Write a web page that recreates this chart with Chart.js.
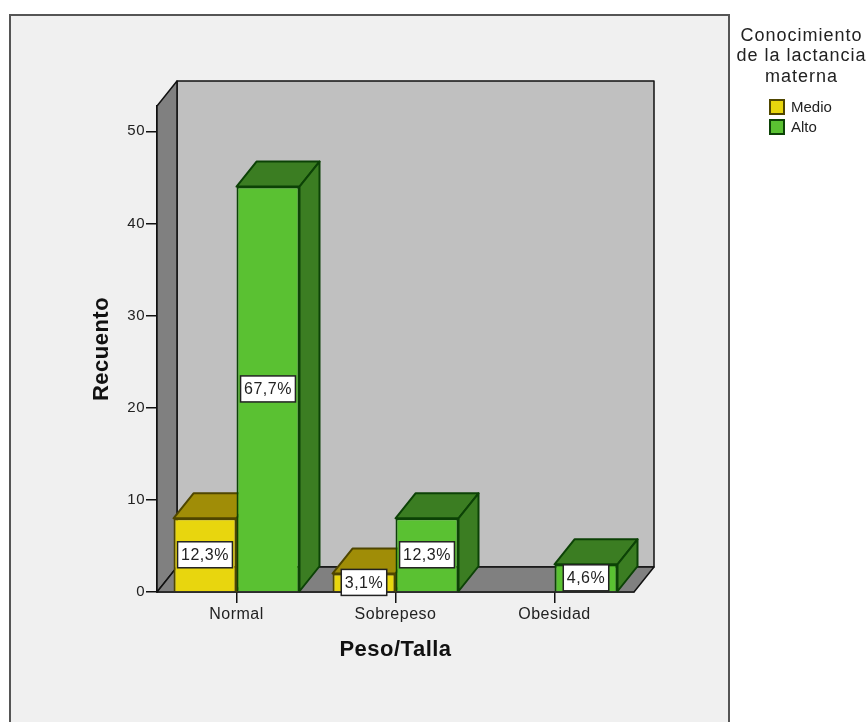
<!DOCTYPE html>
<html>
<head>
    <title>Peso/Talla</title>
    <style>
        body { margin: 0; background: #fff; }
        canvas { display: block; }
    </style>
    <script src="https://cdn.jsdelivr.net/npm/chart.js"></script>
</head>
<body>
    <canvas id="chart" width="868" height="722"></canvas>

    <script>
        const categories = ['Normal', 'Sobrepeso', 'Obesidad'];
        const seriesNames = ['Medio', 'Alto'];
        const medio = [8, 2, 0];
        const alto = [44, 8, 3];
        const medioLabels = ['12,3%', '3,1%', null];
        const altoLabels = ['67,7%', '12,3%', '4,6%'];
        const yTicks = [0, 10, 20, 30, 40, 50];
        const legendTitle = ['Conocimiento', 'de la lactancia', 'materna'];

        const FONT = '"Liberation Sans", Arial, sans-serif';
        const DEPTH_X = 20;
        const DEPTH_Y = 25;
        const yellow = { front: '#e8d60e', shade: '#a08d07', line: '#4f4600' };
        const green = { front: '#5ac132', shade: '#3b7d22', line: '#0c4206' };

        function poly(ctx, pts, fill, stroke, width) {
            ctx.beginPath();
            pts.forEach((p, i) => i ? ctx.lineTo(p[0], p[1]) : ctx.moveTo(p[0], p[1]));
            ctx.closePath();
            ctx.fillStyle = fill;
            ctx.fill();
            ctx.lineWidth = width;
            ctx.strokeStyle = stroke;
            ctx.stroke();
        }

        // panel behind the whole chart, also sets the text tracking used by the axes
        const framePlugin = {
            id: 'frame',
            beforeDraw(chart) {
                const ctx = chart.ctx;
                ctx.save();
                ctx.fillStyle = '#f0f0f0';
                ctx.strokeStyle = '#555';
                ctx.lineWidth = 2;
                ctx.fillRect(10, 15, 719, 720);
                ctx.strokeRect(10, 15, 719, 720);
                ctx.restore();
                ctx.letterSpacing = '0.5px';
            }
        };

        // walls, floor, then the top and side faces of each bar
        const box3dPlugin = {
            id: 'box3d',
            beforeDatasetsDraw(chart) {
                const ctx = chart.ctx;
                const a = chart.chartArea;
                ctx.save();
                ctx.lineJoin = 'round';
                poly(ctx, [[a.left + DEPTH_X, a.top - DEPTH_Y], [a.right + DEPTH_X, a.top - DEPTH_Y],
                    [a.right + DEPTH_X, a.bottom - DEPTH_Y], [a.left + DEPTH_X, a.bottom - DEPTH_Y]], '#c0c0c0', '#111', 1.5);
                poly(ctx, [[a.left, a.bottom], [a.left, a.top], [a.left + DEPTH_X, a.top - DEPTH_Y],
                    [a.left + DEPTH_X, a.bottom - DEPTH_Y]], '#808080', '#111', 1.5);
                poly(ctx, [[a.left, a.bottom], [a.right, a.bottom], [a.right + DEPTH_X, a.bottom - DEPTH_Y],
                    [a.left + DEPTH_X, a.bottom - DEPTH_Y]], '#808080', '#111', 1.5);

                chart.data.datasets.forEach((ds, i) => {
                    const c = i === 0 ? yellow : green;
                    chart.getDatasetMeta(i).data.forEach((bar, j) => {
                        if (!ds.data[j]) return;
                        const l = bar.x - bar.width / 2;
                        const r = bar.x + bar.width / 2;
                        poly(ctx, [[l, bar.y], [r, bar.y], [r + DEPTH_X, bar.y - DEPTH_Y], [l + DEPTH_X, bar.y - DEPTH_Y]], c.shade, c.line, 2);
                        poly(ctx, [[r, bar.y], [r + DEPTH_X, bar.y - DEPTH_Y], [r + DEPTH_X, bar.base - DEPTH_Y], [r, bar.base]], c.shade, c.line, 2);
                    });
                });
                ctx.restore();
            }
        };

        // white percentage boxes centred on the bar fronts
        const percentPlugin = {
            id: 'percent',
            afterDatasetsDraw(chart) {
                const ctx = chart.ctx;
                const labelSets = [medioLabels, altoLabels];
                ctx.save();
                ctx.font = '16px ' + FONT;
                ctx.textAlign = 'center';
                ctx.textBaseline = 'middle';
                chart.data.datasets.forEach((ds, i) => {
                    chart.getDatasetMeta(i).data.forEach((bar, j) => {
                        const text = labelSets[i][j];
                        if (!text) return;
                        const w = ctx.measureText(text).width + 7;
                        const cy = (bar.y + bar.base) / 2;
                        ctx.fillStyle = '#fff';
                        ctx.strokeStyle = '#222';
                        ctx.lineWidth = 1.5;
                        ctx.fillRect(bar.x - w / 2, cy - 13, w, 26);
                        ctx.strokeRect(bar.x - w / 2, cy - 13, w, 26);
                        ctx.fillStyle = '#222';
                        ctx.fillText(text, bar.x, cy + 1);
                    });
                });
                ctx.restore();
            }
        };

        // legend to the right of the panel
        const sideLegendPlugin = {
            id: 'sideLegend',
            afterDraw(chart) {
                const ctx = chart.ctx;
                ctx.save();
                ctx.fillStyle = '#222';
                ctx.font = '18px ' + FONT;
                ctx.letterSpacing = '1px';
                ctx.textAlign = 'center';
                ctx.textBaseline = 'middle';
                legendTitle.forEach((line, i) => ctx.fillText(line, 801.5, 36 + i * 20.5));
                ctx.letterSpacing = '0px';
                ctx.font = '15px ' + FONT;
                ctx.textAlign = 'left';
                chart.data.datasets.forEach((ds, i) => {
                    const y = 100 + i * 20;
                    ctx.fillStyle = ds.backgroundColor;
                    ctx.strokeStyle = ds.borderColor;
                    ctx.lineWidth = 2;
                    ctx.fillRect(770, y, 14, 14);
                    ctx.strokeRect(770, y, 14, 14);
                    ctx.fillStyle = '#222';
                    ctx.fillText(ds.label, 791, y + 8);
                });
                ctx.restore();
            }
        };

        new Chart(document.getElementById('chart'), {
            type: 'bar',
            data: {
                labels: categories,
                datasets: [
                    { label: seriesNames[0], data: medio, backgroundColor: yellow.front, borderColor: yellow.line, borderWidth: 2 },
                    { label: seriesNames[1], data: alto, backgroundColor: green.front, borderColor: green.line, borderWidth: 2 }
                ]
            },
            options: {
                responsive: false,
                animation: false,
                layout: { padding: { left: 89, top: 106, right: 234, bottom: 59 } },
                datasets: { bar: { categoryPercentage: 0.7925, barPercentage: 1 } },
                plugins: { legend: { display: false }, tooltip: { enabled: false } },
                scales: {
                    x: {
                        afterFit(scale) { scale.height = 71; },
                        grid: { drawOnChartArea: false, offset: false, color: '#111', tickLength: 11, lineWidth: 1.5 },
                        border: { color: '#111', width: 1.5 },
                        ticks: { color: '#222', padding: 2, maxRotation: 0, font: { family: FONT, size: 16 } },
                        title: { display: true, text: 'Peso/Talla', color: '#111', padding: { top: 0, bottom: 0 }, font: { family: FONT, size: 22, weight: 'bold' } }
                    },
                    y: {
                        min: 0,
                        max: 52.75,
                        afterFit(scale) { scale.width = 68; },
                        afterBuildTicks(scale) { scale.ticks = yTicks.map(v => ({ value: v })); },
                        grid: { drawOnChartArea: false, color: '#111', tickLength: 11, lineWidth: 1.5 },
                        border: { color: '#111', width: 1.5 },
                        ticks: { color: '#222', padding: 1, font: { family: FONT, size: 15 } },
                        title: { display: true, text: 'Recuento', color: '#111', padding: { top: 0, bottom: 0 }, font: { family: FONT, size: 22, weight: 'bold' } }
                    }
                }
            },
            plugins: [framePlugin, box3dPlugin, percentPlugin, sideLegendPlugin]
        });
    </script>
</body>
</html>
